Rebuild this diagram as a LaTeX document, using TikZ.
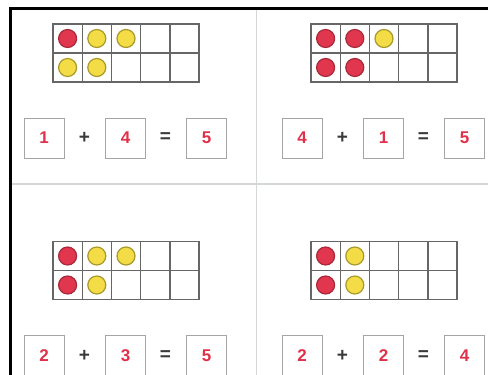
\documentclass[tikz,border=0pt]{standalone}
\usepackage{fontspec}
\setmainfont{Liberation Sans}
\definecolor{redfill}{HTML}{E0364E}
\definecolor{redline}{HTML}{A8283A}
\definecolor{yelfill}{HTML}{F3DC45}
\definecolor{yelline}{HTML}{A89A2A}
\definecolor{gridcol}{HTML}{666666}
\definecolor{boxcol}{HTML}{A5A5A5}
\definecolor{numcol}{HTML}{E0304A}
\definecolor{opcol}{HTML}{3A3A3A}
\definecolor{divcol}{HTML}{D4D8D4}
\tikzset{
  cell/.style={draw=gridcol, line width=1.4pt, minimum width=29.2pt, minimum height=29pt, inner sep=0pt, outer sep=0pt},
  rdot/.style={circle, fill=redfill, draw=redline, line width=1.2pt, minimum size=18pt, inner sep=0pt},
  ydot/.style={circle, fill=yelfill, draw=yelline, line width=1.2pt, minimum size=18pt, inner sep=0pt},
  numbox/.style={draw=boxcol, line width=1pt, minimum size=40pt, inner sep=0pt, text=numcol, font=\fontsize{17}{17}\selectfont\bfseries},
  opsign/.style={text=opcol, font=\fontsize{19}{19}\selectfont\bfseries, inner sep=0pt},
  frameline/.style={line width=2.6pt, black},
  divline/.style={line width=1.4pt, divcol},
}
\newcommand\tenpanel[7]{%
  \begin{scope}[shift={(#1,#2)}]
    \foreach \r in {1,2}{
      \foreach \c in {1,...,5}{
        \node[cell] (#3-\r-\c) at ({53+14.6+29.2*(\c-1)},{24+14.5+29*(\r-1)}) {};
      }
    }
    \foreach \r/\c/\s in {#4}{
      \node[\s] (#3-d-\r-\c) at (#3-\r-\c) {};
    }
    \node[numbox] (#3-a) at (44,138) {#5};
    \node[opsign] (#3-plus) at (84.5,138) {+};
    \node[numbox] (#3-b) at (125.5,138) {#6};
    \node[opsign] (#3-eq) at (165.5,138) {=};
    \node[numbox] (#3-c) at (206.5,138) {#7};
  \end{scope}}
\begin{document}
\begin{tikzpicture}[x=1pt,y=-1pt]
  \fill[white] (0,0) rectangle (488,375);
  \useasboundingbox (0,0) rectangle (488,375);
  \coordinate (tl) at (10.5,8.5);
  \coordinate (tr) at (489,8.5);
  \coordinate (bl) at (10.5,376);
  \coordinate (vt) at (256.5,10);
  \coordinate (vb) at (256.5,376);
  \coordinate (hl) at (12,184);
  \coordinate (hr) at (489,184);
  \draw[divline] (vt) -- (vb);
  \draw[divline] (hl) -- (hr);
  \draw[frameline] (tr) -- (tl) -- (bl);
  \tenpanel{0}{0}{p1}{1/1/rdot,1/2/ydot,1/3/ydot,2/1/ydot,2/2/ydot}{1}{4}{5}
  \tenpanel{258}{0}{p2}{1/1/rdot,1/2/rdot,1/3/ydot,2/1/rdot,2/2/rdot}{4}{1}{5}
  \tenpanel{0}{217.5}{p3}{1/1/rdot,1/2/ydot,1/3/ydot,2/1/rdot,2/2/ydot}{2}{3}{5}
  \tenpanel{258}{217.5}{p4}{1/1/rdot,1/2/ydot,2/1/rdot,2/2/ydot}{2}{2}{4}
\end{tikzpicture}
\end{document}
